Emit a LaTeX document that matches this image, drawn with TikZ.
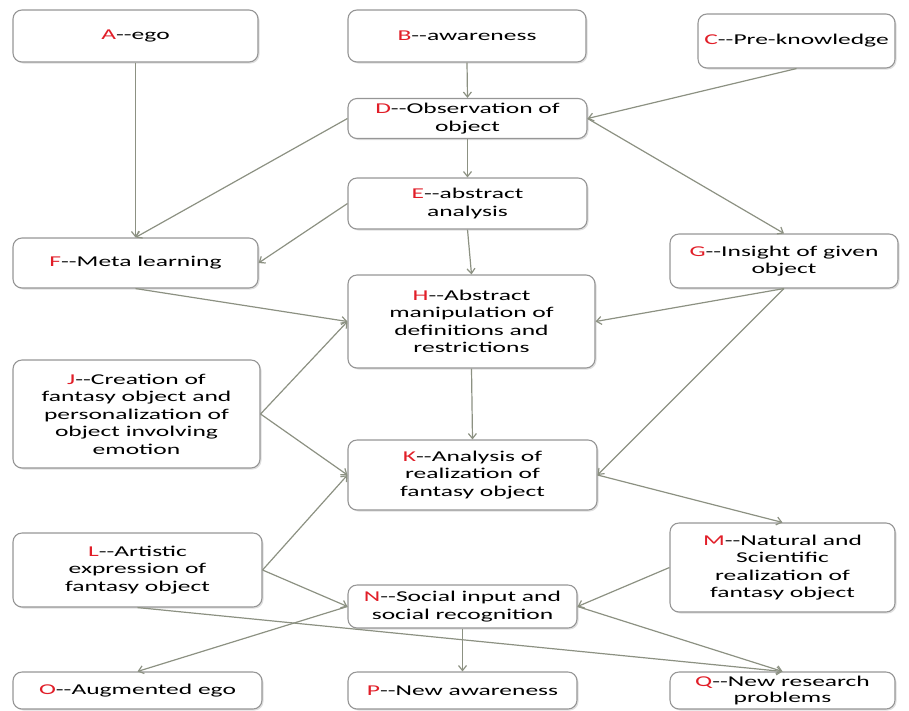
\documentclass[tikz,border=0pt]{standalone}
\usepackage{fontspec}
\setmainfont{Carlito}[FakeStretch=1.7]
\usetikzlibrary{arrows.meta,shadows}
\definecolor{boxline}{RGB}{150,150,150}
\definecolor{arrowcol}{RGB}{140,145,130}
\definecolor{letred}{RGB}{225,30,40}
\newcommand{\lbl}[1]{\textcolor{letred}{#1}-{}-}

\begin{document}
\begin{tikzpicture}[x=1pt,y=-1pt,
  box/.style={draw=boxline, line width=1.1pt, fill=white, rounded corners=9pt, align=center, inner sep=1pt,
    font=\fontsize{15}{17.5}\selectfont,
    drop shadow={shadow xshift=1.5pt, shadow yshift=-1.5pt, opacity=0.25}},
  arr/.style={draw=arrowcol, line width=1.2pt, -{Straight Barb[length=5pt,width=8pt]}}]
\useasboundingbox (0,0) rectangle (909,710);
% top row
\node[box, minimum width=245pt, minimum height=52pt] (A) at (135.5,36){\lbl{A}ego};
\node[box, minimum width=238pt, minimum height=52pt] (B) at (467,36){\lbl{B}awareness};
\node[box, minimum width=197pt, minimum height=54pt] (C) at (796.5,41){\lbl{C}Pre-knowledge};
\node[box, minimum width=239pt, minimum height=40pt] (D) at (467.5,118.5){\lbl{D}Observation of\\object};
\node[box, minimum width=239pt, minimum height=51pt] (E) at (467.5,203.5){\lbl{E}abstract\\analysis};
\node[box, minimum width=245pt, minimum height=50pt] (F) at (135.5,263){\lbl{F}Meta learning};
\node[box, minimum width=228pt, minimum height=54pt] (G) at (784,261){\lbl{G}Insight of given\\object};
% middle
\node[box, minimum width=247pt, minimum height=93pt] (H) at (471.5,321.5){\lbl{H}Abstract\\manipulation of\\definitions and\\restrictions};
\node[box, minimum width=247pt, minimum height=108pt] (J) at (136.5,414){\lbl{J}Creation of\\fantasy object and\\personalization of\\object involving\\emotion};
\node[box, minimum width=249pt, minimum height=70pt] (K) at (472.5,475){\lbl{K}Analysis of\\realization of\\fantasy object};
\node[box, minimum width=249pt, minimum height=74pt] (L) at (137.5,570){\lbl{L}Artistic\\expression of\\fantasy object};
\node[box, minimum width=225pt, minimum height=89pt] (M) at (782.5,567.5){\lbl{M}Natural and\\Scientific\\realization of\\fantasy object};
\node[box, minimum width=229pt, minimum height=43pt] (N) at (462.5,606.5){\lbl{N}Social input and\\social recognition};
% bottom row
\node[box, minimum width=249pt, minimum height=37pt] (O) at (137.5,690.5){\lbl{O}Augmented ego};
\node[box, minimum width=229pt, minimum height=37pt] (P) at (462.5,690.5){\lbl{P}New awareness};
\node[box, minimum width=225pt, minimum height=37pt, font=\fontsize{15}{16}\selectfont] (Q) at (782.5,690.5){\lbl{Q}New research\\problems};

\draw[arr] (A.south) -- (F.north);
\draw[arr] (B.south) -- (D.north);
\draw[arr] (C.south) -- (D.east);
\draw[arr] (D.west) -- (F.north);
\draw[arr] (D.east) -- (G.north);
\draw[arr] (D.south) -- (E.north);
\draw[arr] (E.west) -- (F.east);
\draw[arr] (E.south) -- (H.north);
\draw[arr] (F.south) -- (H.west);
\draw[arr] (G.south) -- (H.east);
\draw[arr] (G.south) -- (K.east);
\draw[arr] (J.east) -- (H.west);
\draw[arr] (J.east) -- (K.west);
\draw[arr] (H.south) -- (K.north);
\draw[arr] (K.east) -- (M.north);
\draw[arr] (L.east) -- (K.west);
\draw[arr] (L.east) -- (N.west);
\draw[arr] (L.south) -- (Q.north);
\draw[arr] (M.west) -- (N.east);
\draw[arr] (N.west) -- (O.north);
\draw[arr] (N.south) -- (P.north);
\draw[arr] (N.east) -- (Q.north);

\end{tikzpicture}
\end{document}
